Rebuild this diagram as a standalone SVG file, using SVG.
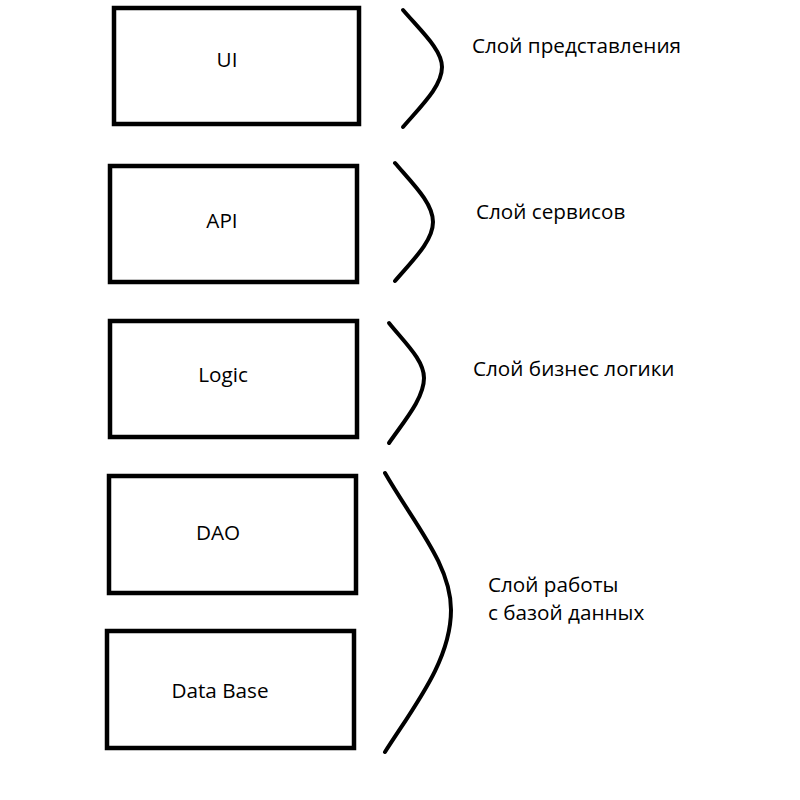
<svg xmlns="http://www.w3.org/2000/svg" width="800" height="800" viewBox="0 0 800 800">
<style>
.box{fill:#fff;stroke:#000;stroke-width:4.5}
.brace{fill:none;stroke:#000;stroke-width:4;stroke-linecap:round}
text{font-family:"Open Sans","Noto Sans","DejaVu Sans",sans-serif;font-size:20.7px;fill:#000}
.c{text-anchor:middle}
</style>
<rect width="800" height="800" fill="#fff"/>
<g id="ui"><rect class="box" x="114" y="8" width="245" height="116"/><text class="c" x="227" y="67">UI</text></g>
<g id="api"><rect class="box" x="110" y="166" width="247" height="116"/><text class="c" x="222" y="228">API</text></g>
<g id="logic"><rect class="box" x="110" y="321" width="247" height="116"/><text class="c" x="223" y="382">Logic</text></g>
<g id="dao"><rect class="box" x="109" y="476" width="247" height="117"/><text class="c" x="218" y="540">DAO</text></g>
<g id="database"><rect class="box" x="107" y="631" width="247" height="117"/><text class="c" x="220" y="698">Data Base</text></g>
<g id="braces">
<path class="brace" d="M403,10 C422,32 442,50 442,67 C442,86 422,105 403,127"/>
<path class="brace" d="M395,163 C413,184 433,203 433,222 C433,241 413,260 395,281"/>
<path class="brace" d="M389,323 C405,343 424,360 424,378 C424,398 405,420 389,443"/>
<path class="brace" d="M385,473 C415,525 451,565 451,610 C451,660 415,705 385,752"/>
</g>
<g id="labels">
<text x="472" y="53">Слой представления</text>
<text x="476" y="219">Слой сервисов</text>
<text x="473" y="376">Слой бизнес логики</text>
<text x="488" y="592">Слой работы</text>
<text x="488" y="620">с базой данных</text>
</g>
</svg>
